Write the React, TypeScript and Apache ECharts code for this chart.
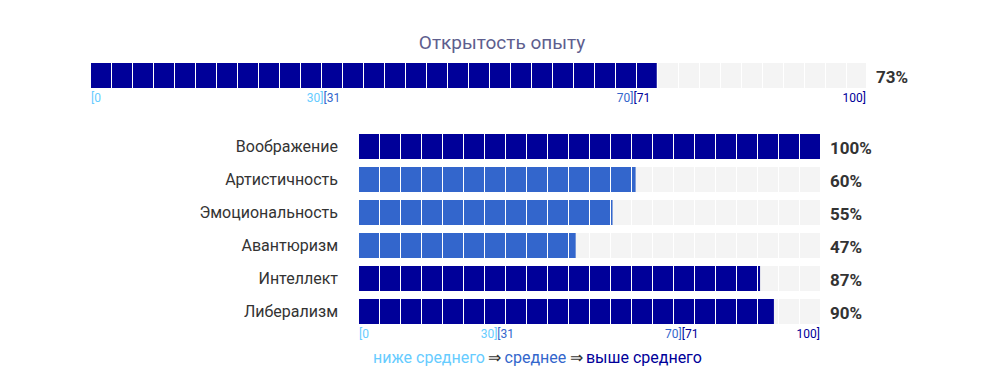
import React, { useEffect, useRef } from "react";
import * as echarts from "echarts";

const mainTitle = "Открытость опыту";
const mainValue = [73];
const categories = ["Воображение", "Артистичность", "Эмоциональность", "Авантюризм", "Интеллект", "Либерализм"];
const values = [100, 60, 55, 47, 87, 90];
const tickLabels: Record<number, string> = {
  0: "{a|[0}",
  30: "{a|30]}{b|[31}",
  70: "{b|70]}{c|[71}",
  100: "{c|100]}",
};
const legendParts = ["ниже среднего", "среднее", "выше среднего"];

const LIGHT = "#66ccff";
const MID = "#3366cc";
const DARK = "#000099";
const TRACK = "#f4f4f4";
const SEG = 21;

function colorFor(v: number) {
  if (v <= 30) return LIGHT;
  if (v <= 70) return MID;
  return DARK;
}

function renderSegBar(_params: any, api: any) {
  const v = api.value(0);
  const c = api.value(1);
  const s = api.coord([0, c]);
  const e = api.coord([v, c]);
  const f = api.coord([100, c]);
  const h = 25;
  const y = s[1] - h / 2;
  const children: any[] = [
    { type: "rect", shape: { x: s[0], y, width: f[0] - s[0], height: h }, style: { fill: TRACK } },
    { type: "rect", shape: { x: s[0], y, width: e[0] - s[0], height: h }, style: { fill: colorFor(v) } },
  ];
  for (let x = s[0] + SEG - 1; x < f[0] - 0.5; x += SEG) {
    children.push({ type: "rect", shape: { x, y, width: 1, height: h }, style: { fill: "#ffffff" } });
  }
  children.push({
    type: "text",
    x: f[0] + 10,
    y: s[1] + 1,
    style: {
      text: v + "%",
      fill: "#333333",
      fontSize: 17,
      fontWeight: "bold",
      fontFamily: "Roboto",
      align: "left",
      verticalAlign: "middle",
    },
  });
  return { type: "group", children };
}

const rich = {
  a: { color: LIGHT, fontSize: 12, fontFamily: "Roboto" },
  b: { color: MID, fontSize: 12, fontFamily: "Roboto" },
  c: { color: DARK, fontSize: 12, fontFamily: "Roboto" },
};

function xAxisFor(gridIndex: number, margin: number) {
  return {
    type: "value",
    gridIndex,
    min: 0,
    max: 100,
    interval: 10,
    axisLine: { show: false },
    axisTick: { show: false },
    splitLine: { show: false },
    axisLabel: {
      margin,
      showMinLabel: true,
      showMaxLabel: true,
      alignMinLabel: "left",
      alignMaxLabel: "right",
      formatter: (val: number) => tickLabels[val] || "",
      rich,
    },
  };
}

export default function App() {
  const ref = useRef<HTMLDivElement>(null);
  useEffect(() => {
    document.body.style.margin = "0";
    const chart = echarts.init(ref.current!, null, { renderer: "svg" });
    chart.setOption({
      animation: false,
      textStyle: { fontFamily: "Roboto" },
      grid: [
        { left: 91, width: 775, top: 63, height: 25 },
        { left: 359, width: 461, top: 130, height: 198 },
      ],
      xAxis: [xAxisFor(0, 4), xAxisFor(1, 0)],
      yAxis: [
        {
          type: "category",
          gridIndex: 0,
          data: [mainTitle],
          inverse: true,
          axisLine: { show: false },
          axisTick: { show: false },
          axisLabel: { show: false },
        },
        {
          type: "category",
          gridIndex: 1,
          data: categories,
          inverse: true,
          axisLine: { show: false },
          axisTick: { show: false },
          axisLabel: { margin: 21, fontSize: 16, color: "#333333", fontFamily: "Roboto" },
        },
      ],
      graphic: [
        {
          type: "text",
          x: 502,
          y: 42,
          style: {
            text: mainTitle,
            fontSize: 19,
            fontFamily: "Roboto",
            fill: "#5e5e8e",
            align: "center",
            verticalAlign: "middle",
          },
        },
        {
          type: "text",
          x: 373,
          y: 357,
          style: {
            text: `{a|${legendParts[0]}} {d|⇒} {b|${legendParts[1]}} {d|⇒} {c|${legendParts[2]}}`,
            verticalAlign: "middle",
            align: "left",
            rich: {
              a: { fill: LIGHT, fontSize: 16, fontFamily: "Roboto" },
              b: { fill: MID, fontSize: 16, fontFamily: "Roboto" },
              c: { fill: DARK, fontSize: 16, fontFamily: "Roboto" },
              d: { fill: "#333333", fontSize: 16, fontFamily: "Roboto" },
            },
          },
        },
      ],
      series: [
        {
          type: "custom",
          xAxisIndex: 0,
          yAxisIndex: 0,
          renderItem: renderSegBar,
          encode: { x: 0, y: 1 },
          data: mainValue.map((v, i) => [v, i]),
        },
        {
          type: "custom",
          xAxisIndex: 1,
          yAxisIndex: 1,
          renderItem: renderSegBar,
          encode: { x: 0, y: 1 },
          data: values.map((v, i) => [v, i]),
        },
      ],
    });
    return () => chart.dispose();
  }, []);
  return <div ref={ref} style={{ width: 1008, height: 378 }} />;
}
